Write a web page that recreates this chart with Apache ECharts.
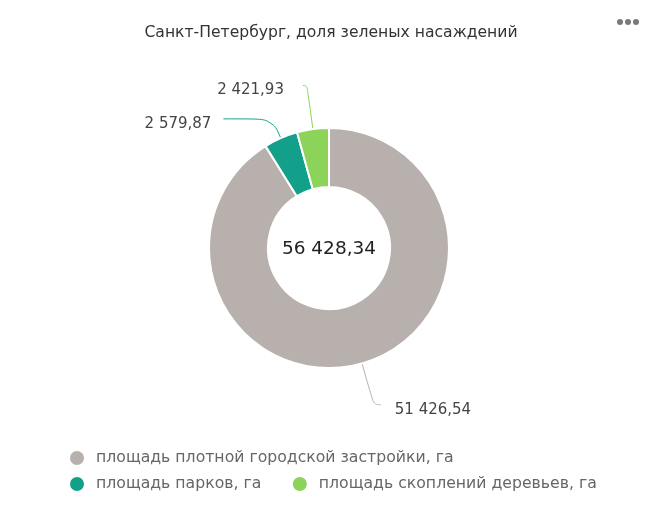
<!DOCTYPE html>
<html><head><meta charset="utf-8">
<script src="https://cdn.jsdelivr.net/npm/echarts@6/dist/echarts.min.js"></script>
<style>html,body{margin:0;padding:0;background:#fff}#c{width:662px;height:519px}</style>
</head><body><div id="c"></div>
<script>
const title = 'Санкт-Петербург, доля зеленых насаждений';
const categories = ['площадь плотной городской застройки, га', 'площадь парков, га', 'площадь скоплений деревьев, га'];
const values = [51426.54, 2579.87, 2421.93];
const colors = ['#b8b0ac', '#12a08b', '#8bd359'];
const lineLen = [43, 21, 44];
const lineLen2 = [7, 49, 4];
const labelGap = [14, 12, 19];

function fmt(v) {
  const s = v.toFixed(2).split('.');
  return s[0].replace(/\B(?=(\d{3})+(?!\d))/g, ' ') + ',' + s[1];
}
const total = values.reduce((a, b) => a + b, 0);
const FONT = 'DejaVu Sans';

const chart = echarts.init(document.getElementById('c'));
chart.setOption({
  animation: false,
  title: [{
    text: title, left: 'center', top: 20,
    textStyle: {fontFamily: FONT, fontSize: 15.6, fontWeight: 'normal', color: '#333'}
  }],
  graphic: [{
    type: 'text', x: 329, y: 249,
    style: {text: fmt(total), font: '18.5px "DejaVu Sans"', fill: '#222', textAlign: 'center', textVerticalAlign: 'middle'}
  }, {type: 'group', left: 617, top: 19, children: [
    {type: 'circle', shape: {cx: 3, cy: 3, r: 3}, style: {fill: '#7a7a7a'}},
    {type: 'circle', shape: {cx: 11, cy: 3, r: 3}, style: {fill: '#7a7a7a'}},
    {type: 'circle', shape: {cx: 19, cy: 3, r: 3}, style: {fill: '#7a7a7a'}}
  ]}],
  legend: [{
    data: [categories[0]], left: 63, top: 444, icon: 'circle', itemWidth: 28, itemHeight: 16, itemGap: 29.5,
    textStyle: {fontFamily: FONT, fontSize: 15.7, color: '#666'}
  }, {
    data: [categories[1], categories[2]], left: 63, top: 470, icon: 'circle', itemWidth: 28, itemHeight: 16, itemGap: 29.5,
    textStyle: {fontFamily: FONT, fontSize: 15.7, color: '#666'}
  }],
  series: [{
    type: 'pie',
    center: [329, 248],
    radius: [61, 120],
    startAngle: 90,
    clockwise: true,
    avoidLabelOverlap: false,
    itemStyle: {borderColor: '#fff', borderWidth: 2},
    label: {
      formatter: p => fmt(p.value),
      fontFamily: FONT, fontSize: 15, color: '#444'
    },
    labelLayout: {dy: 5},
    labelLine: {smooth: 0.4, lineStyle: {width: 1}},
    emphasis: {disabled: true},
    data: categories.map((c, i) => ({
      name: c, value: values[i], itemStyle: {color: colors[i]},
      label: {distanceToLabelLine: labelGap[i]},
      labelLine: {length: lineLen[i], length2: lineLen2[i]}
    }))
  }]
});
</script></body></html>
